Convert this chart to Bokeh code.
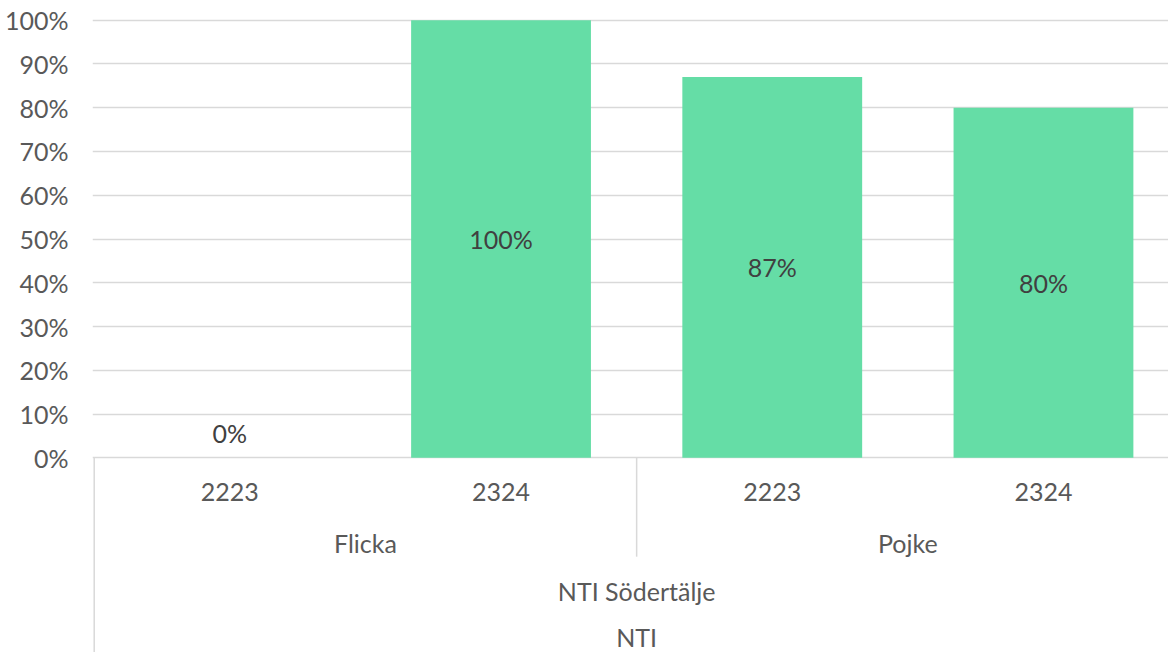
from bokeh.plotting import figure
from bokeh.models import ColumnDataSource, Range1d, FixedTicker
from bokeh.core.properties import value
from bokeh.embed import file_html
from bokeh.resources import INLINE

# ---- data ----
years = ["2223", "2324", "2223", "2324"]
genders = ["Flicka", "Flicka", "Pojke", "Pojke"]
school = "NTI Södertälje"
org = "NTI"
values = [0, 100, 87, 80]
tick_values = [0, 10, 20, 30, 40, 50, 60, 70, 80, 90, 100]
tick_labels = ["0%", "10%", "20%", "30%", "40%", "50%", "60%", "70%", "80%", "90%", "100%"]

FONT = "Lato"
AXIS_COLOR = "#595959"
LABEL_COLOR = "#404040"
GRID_COLOR = "#d9d9d9"
BAR_COLOR = "#65DDA6"
FS = "25px"

n = len(values)
xs = [i + 0.5 for i in range(n)]
Y_BOTTOM = -44.5

p = figure(width=1168, height=652, output_backend="svg", toolbar_location=None,
           x_range=Range1d(-0.0063, 3.961), y_range=Range1d(Y_BOTTOM, 100.85),
           x_axis_location=None, min_border_left=92, min_border_right=0,
           min_border_top=16, min_border_bottom=0)
p.outline_line_color = None
p.xgrid.visible = False

p.yaxis.ticker = FixedTicker(ticks=tick_values)
p.yaxis.major_label_overrides = {t: l for t, l in zip(tick_values, tick_labels)}
p.yaxis.axis_line_color = None
p.yaxis.major_tick_line_color = None
p.yaxis.minor_tick_line_color = None
p.yaxis.major_tick_out = 0
p.yaxis.major_tick_in = 0
p.yaxis.major_label_standoff = 24
p.yaxis.major_label_text_font = FONT
p.yaxis.major_label_text_font_size = FS
p.yaxis.major_label_text_color = AXIS_COLOR

p.ygrid.ticker = FixedTicker(ticks=tick_values)
p.ygrid.grid_line_color = GRID_COLOR
p.ygrid.grid_line_width = 1.5

src = ColumnDataSource(dict(
    x=xs, top=values,
    ly=[v / 2 for v in values],
    lbl=[f"{v}%" for v in values],
    off=[-25 if v == 0 else 0 for v in values],
))
p.vbar(x="x", top="top", bottom=0, width=0.663, source=src,
       fill_color=BAR_COLOR, line_color=None)
p.text(x="x", y="ly", text="lbl", y_offset="off", source=src,
       text_align="center", text_baseline="middle",
       text_font=value(FONT), text_font_size=FS, text_color=LABEL_COLOR)

# ---- hierarchical category axis ----
Y_YEAR, Y_GENDER, Y_SCHOOL, Y_ORG = -7.9, -19.4, -30.5, -40.9
SEP_BOTTOM = -22.6
p.text(x=xs, y=[Y_YEAR] * n, text=years, text_align="center", text_baseline="middle",
       text_font=value(FONT), text_font_size=FS, text_color=AXIS_COLOR)

groups = []
for i, g in enumerate(genders):
    if groups and groups[-1][0] == g:
        groups[-1][2] = i + 1
    else:
        groups.append([g, i, i + 1])
p.text(x=[(s + e) / 2 for _, s, e in groups], y=[Y_GENDER] * len(groups),
       text=[g for g, _, _ in groups], text_align="center", text_baseline="middle",
       text_font=value(FONT), text_font_size=FS, text_color=AXIS_COLOR)
p.text(x=[n / 2], y=[Y_SCHOOL], text=[school],
       text_align="center", text_baseline="middle",
       text_font=value(FONT), text_font_size=FS, text_color=AXIS_COLOR)
p.text(x=[n / 2], y=[Y_ORG], text=[org],
       text_align="center", text_baseline="middle",
       text_font=value(FONT), text_font_size=FS, text_color=AXIS_COLOR)

inner = [e for _, _, e in groups[:-1]]
p.segment(x0=inner, y0=[0] * len(inner), x1=inner, y1=[SEP_BOTTOM] * len(inner),
          line_color=GRID_COLOR, line_width=1.5)
p.segment(x0=[0, n], y0=[0, 0], x1=[0, n], y1=[Y_BOTTOM, Y_BOTTOM],
          line_color=GRID_COLOR, line_width=1.5)

open("out.html", "w").write(file_html(p, INLINE))
